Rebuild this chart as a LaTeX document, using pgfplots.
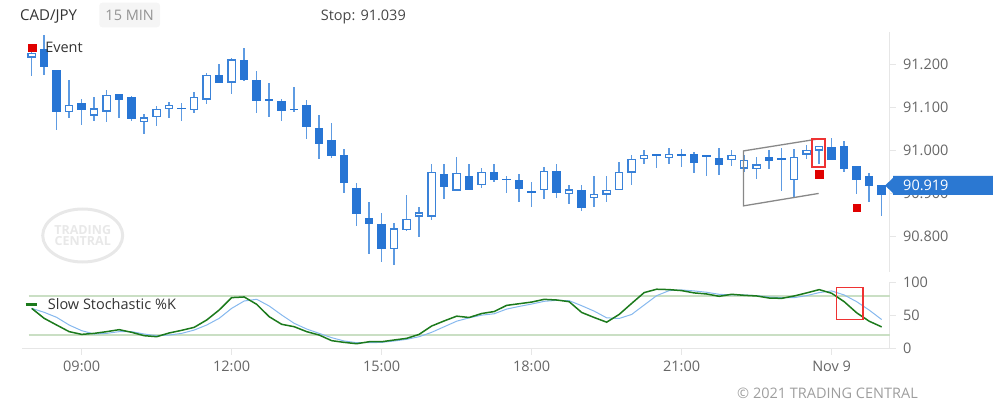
\documentclass[border=0pt]{standalone}
\usepackage{pgfplots}
\pgfplotsset{compat=1.18}
\usepackage{pgfplotstable}
\usepackage{fontspec}
\setmainfont{Open Sans}
\definecolor{candleblue}{HTML}{2775D4}
\definecolor{outlineblue}{HTML}{3A82D8}
\definecolor{wickblue}{HTML}{5E9BE2}
\definecolor{kgreen}{HTML}{1C7A1C}
\definecolor{dblue}{HTML}{86B8EE}
\definecolor{lvlgreen}{HTML}{CADFC4}
\definecolor{axisgray}{HTML}{E6E6E6}
\definecolor{tickgray}{HTML}{666666}
\definecolor{textdark}{HTML}{333333}
\definecolor{evred}{HTML}{E00000}
\definecolor{rectred}{HTML}{EE3333}
\definecolor{chgray}{HTML}{888888}
\definecolor{labelblue}{HTML}{2B78D2}
\definecolor{wmgray}{HTML}{E8E8E8}
\newcommand\chfont{\fontsize{14.5}{17}\selectfont}

% i open high low close up(1=hollow)
\pgfplotstableread{
i o h l c u
1 91.220 91.235 91.174 91.226 1
2 91.236 91.271 91.177 91.195 0
3 91.187 91.188 91.049 91.089 0
4 91.090 91.164 91.077 91.107 1
5 91.112 91.120 91.061 91.096 0
6 91.082 91.124 91.069 91.099 1
7 91.092 91.142 91.069 91.131 1
8 91.131 91.133 91.077 91.117 0
9 91.124 91.127 91.069 91.073 0
10 91.069 91.085 91.038 91.077 1
11 91.078 91.104 91.057 91.097 1
12 91.097 91.114 91.077 91.107 1
13 91.099 91.112 91.069 91.098 0
14 91.096 91.138 91.088 91.127 1
15 91.119 91.180 91.108 91.177 1
16 91.177 91.201 91.158 91.159 0
17 91.158 91.217 91.134 91.212 1
18 91.212 91.240 91.162 91.166 0
19 91.166 91.185 91.088 91.116 0
20 91.120 91.158 91.078 91.117 0
21 91.116 91.121 91.069 91.094 0
22 91.098 91.147 91.089 91.095 0
23 91.105 91.117 91.028 91.055 0
24 91.053 91.083 90.980 91.015 0
25 91.024 91.065 90.984 90.987 0
26 90.990 91.003 90.902 90.925 0
27 90.914 90.924 90.825 90.853 0
28 90.843 90.881 90.760 90.830 0
29 90.831 90.856 90.741 90.772 0
30 90.771 90.831 90.734 90.820 1
31 90.816 90.898 90.815 90.842 1
32 90.847 90.868 90.798 90.856 1
33 90.847 90.969 90.838 90.951 1
34 90.947 90.969 90.887 90.915 0
35 90.908 90.986 90.907 90.949 1
36 90.941 90.969 90.910 90.910 0
37 90.920 90.960 90.914 90.952 1
38 90.949 90.969 90.928 90.930 0
39 90.934 90.939 90.900 90.933 0
40 90.931 90.945 90.880 90.911 0
41 90.905 90.928 90.869 90.902 0
42 90.908 90.962 90.889 90.953 1
43 90.953 90.968 90.891 90.902 0
44 90.903 90.921 90.877 90.908 1
45 90.908 90.921 90.859 90.868 0
46 90.891 90.941 90.869 90.898 1
47 90.899 90.941 90.880 90.908 1
48 90.908 90.972 90.907 90.951 1
49 90.948 90.991 90.920 90.980 1
50 90.982 91.003 90.969 90.990 1
51 90.991 90.993 90.959 90.990 0
52 90.986 91.007 90.969 90.990 1
53 90.991 91.003 90.962 90.989 0
54 90.993 90.998 90.949 90.972 0
55 90.988 90.991 90.941 90.987 0
56 90.983 91.006 90.943 90.968 0
57 90.978 91.001 90.965 90.990 1
58 90.959 90.990 90.952 90.979 1
59 90.958 90.987 90.934 90.968 1
60 90.985 91.003 90.959 90.977 0
61 90.981 91.007 90.906 90.981 0
62 90.931 91.005 90.890 90.986 1
63 90.991 91.015 90.982 91.003 1
64 91.003 91.009 90.969 91.009 1
65 91.009 91.030 90.978 90.978 0
66 91.011 91.023 90.951 90.957 0
67 90.965 90.965 90.900 90.933 0
68 90.941 90.947 90.880 90.919 0
69 90.921 90.921 90.850 90.898 0
}\candles

% i K D
\pgfplotstableread{
i k d
1 60.8 60.8
2 45.7 54.8
3 35.6 47.2
4 25.6 35.6
5 21.5 27.1
6 23.0 22.0
7 25.6 23.0
8 28.6 25.6
9 24.6 25.6
10 19.5 22.0
11 18.0 19.5
12 23.6 20.5
13 27.6 23.0
14 32.1 28.0
15 43.2 35.6
16 58.3 45.7
17 77.0 60.8
18 78.0 71.9
19 66.9 74.5
20 48.2 64.4
21 36.7 50.8
22 33.1 38.2
23 25.6 29.6
24 20.5 23.0
25 12.0 16.5
26 9.4 11.5
27 7.4 8.9
28 10.4 8.9
29 10.4 9.4
30 13.0 11.5
31 15.5 14.0
32 21.5 18.0
33 34.1 24.6
34 41.8 33.0
35 49.0 41.4
36 47.0 46.5
37 53.0 50.5
38 56.0 52.6
39 65.3 59.7
40 67.8 63.7
41 70.3 67.3
42 74.4 71.4
43 73.4 72.9
44 70.9 72.4
45 54.6 64.8
46 47.0 56.6
47 39.9 46.5
48 51.6 45.5
49 68.3 51.6
50 84.6 65.8
51 89.7 80.0
52 89.1 87.6
53 87.6 88.6
54 84.1 87.1
55 82.5 85.1
56 79.0 82.0
57 82.0 81.0
58 80.5 81.0
59 79.5 80.0
60 76.4 78.0
61 75.9 77.0
62 79.5 77.0
63 84.1 80.0
64 89.1 84.6
65 83.6 87.1
66 70.9 81.0
67 54.1 70.9
68 41.4 58.2
69 32.8 43.9
}\stoch

\begin{document}
\begin{tikzpicture}
\useasboundingbox (0pt,0pt) rectangle (993pt,-414pt);
% watermark
\draw[wmgray, line width=3pt] (82.7pt,-235.5pt) ellipse [x radius=40pt, y radius=26.5pt];
\node[text=wmgray, font=\fontsize{12.5}{10.5}\selectfont\bfseries, align=center, inner sep=0pt] at (82.7pt,-235.5pt) {TRADING\\CENTRAL};

% header
\node[anchor=base west, inner sep=0pt, text=textdark, font=\fontsize{15}{17}\selectfont] at (20pt,-21pt) {CAD/JPY};
\fill[black!4, rounded corners=3pt] (99.3pt,-2.7pt) rectangle (160pt,-27.3pt);
\node[anchor=base, inner sep=0pt, text=black!42, font=\chfont] at (129.7pt,-21pt) {15 MIN};
\node[anchor=base west, inner sep=0pt, text=black!72, font=\chfont] at (320.7pt,-21pt) {Stop: 91.039};

\begin{axis}[
  at={(22.3pt,-272pt)}, anchor=south west, scale only axis,
  width=867.6pt, height=240pt,
  xmin=0.25, xmax=69.66, ymin=90.717, ymax=91.276,
  axis x line=none, axis y line*=right,
  y axis line style={draw=axisgray, line width=1pt},
  ytick={90.8,90.9,91.0,91.1,91.2},
  yticklabels={90.800,90.900,91.000,91.100,91.200},
  tick align=outside, major tick length=6pt,
  ytick style={draw=axisgray, line width=1pt},
  yticklabel style={font=\chfont, text=tickgray, anchor=west, inner sep=0pt, xshift=7pt},
  clip=false,
  legend style={at={(axis cs:0.728,91.239)}, anchor=west, draw=none, fill=none,
     inner sep=0pt, column sep=7pt, font=\chfont, text=textdark},
  legend cell align=left,
]
% wicks
\addplot[forget plot, draw=none, mark=none,
  error bars/.cd, y dir=both, y explicit, error mark=none,
  error bar style={draw=wickblue, line width=1.4pt, solid}]
  table[x=i, y expr={(\thisrow{h}+\thisrow{l})/2}, y error expr={(\thisrow{h}-\thisrow{l})/2}] {\candles};
% filled bodies
\addplot[forget plot, draw=none, mark=none,
  error bars/.cd, y dir=both, y explicit, error mark=none,
  error bar style={draw=candleblue, line width=8.5pt, solid}]
  table[x=i, y expr={\thisrow{u}<0.5 ? (\thisrow{o}+\thisrow{c})/2 : nan},
        y error expr={max(abs(\thisrow{o}-\thisrow{c})/2,0.0014)}] {\candles};
% hollow bodies
\addplot[forget plot, draw=none, mark=none,
  error bars/.cd, y dir=both, y explicit, error mark=none,
  error bar style={draw=outlineblue, line width=8.5pt, solid}]
  table[x=i, y expr={\thisrow{u}>0.5 ? (\thisrow{o}+\thisrow{c})/2 : nan},
        y error expr={max(abs(\thisrow{o}-\thisrow{c})/2,0.0055)}] {\candles};
\addplot[forget plot, draw=none, mark=none,
  error bars/.cd, y dir=both, y explicit, error mark=none,
  error bar style={draw=white, line width=5.7pt, solid}]
  table[x=i, y expr={\thisrow{u}>0.5 ? (\thisrow{o}+\thisrow{c})/2 : nan},
        y error expr={max(abs(\thisrow{o}-\thisrow{c})/2,0.0055)-0.0033}] {\candles};
% channel
\addplot[forget plot, draw=chgray, line width=1.3pt, mark=none]
  coordinates {(63.96,91.027) (57.94,90.999) (57.94,90.871) (63.96,90.900)};
% red rectangle
\addplot[forget plot, draw=rectred, line width=1.5pt, mark=none]
  coordinates {(63.42,90.961) (64.46,90.961) (64.46,91.027) (63.42,91.027)} -- cycle;
% events
\addplot[only marks, mark=square*, mark size=3.7pt, draw=evred, fill=evred,
  legend image code/.code={\fill[evred] (0pt,-3.7pt) rectangle (7.4pt,3.7pt);}]
  coordinates {(64,90.945) (67,90.867)};
\addlegendentry{Event}
\end{axis}

\begin{axis}[
  at={(22.3pt,-348.6pt)}, anchor=south west, scale only axis,
  width=867.6pt, height=66.2pt,
  xmin=0.25, xmax=69.66, ymin=0, ymax=100,
  axis x line*=bottom, axis y line*=right,
  axis line style={draw=axisgray, line width=1pt},
  xtick={5,17,29,41,53,65},
  xticklabels={09:00,12:00,15:00,18:00,21:00,Nov 9},
  ytick={0,50,100}, yticklabels={0,50,100},
  tick align=outside, major tick length=6pt,
  tick style={draw=axisgray, line width=1pt},
  yticklabel style={font=\chfont, text=tickgray, anchor=west, inner sep=0pt, xshift=7pt},
  xticklabel style={font=\chfont, text=tickgray, anchor=north, inner sep=0pt, yshift=-6.2pt},
  clip=false,
  legend style={at={(axis cs:0.384,66.9)}, anchor=west, draw=none, fill=none,
     inner sep=0pt, column sep=7pt, font=\chfont, text=textdark},
  legend cell align=left,
]
\addplot[forget plot, draw=lvlgreen, line width=2pt, mark=none] coordinates {(0.75,80) (69.66,80)};
\addplot[forget plot, draw=lvlgreen, line width=2pt, mark=none] coordinates {(0.75,20) (69.66,20)};
\addplot[forget plot, draw=dblue, line width=1pt, mark=none] table[x=i, y=d] {\stoch};
\addplot[draw=kgreen, line width=1.5pt, mark=none,
  legend image code/.code={\draw[kgreen, line width=3pt] (0pt,0pt) -- (11.7pt,0pt);}]
  table[x=i, y=k] {\stoch};
\addlegendentry{Slow Stochastic \%K}
\addplot[forget plot, draw=rectred, line width=1.5pt, mark=none]
  coordinates {(65.4,44.3) (67.5,44.3) (67.5,92.6) (65.4,92.6)} -- cycle;
\end{axis}

% last price label
\fill[labelblue] (885pt,-185.5pt) -- (893pt,-178pt) -- (893pt,-176pt) -- (993pt,-176pt)
   -- (993pt,-195pt) -- (893pt,-195pt) -- (893pt,-193pt) -- cycle;
\node[anchor=base west, inner sep=0pt, text=white, font=\chfont] at (903pt,-190.7pt) {90.919};

% copyright
\node[anchor=base east, inner sep=0pt, text=black!38, font=\chfont] at (918pt,-398.2pt) {© 2021 TRADING CENTRAL};
\end{tikzpicture}
\end{document}
